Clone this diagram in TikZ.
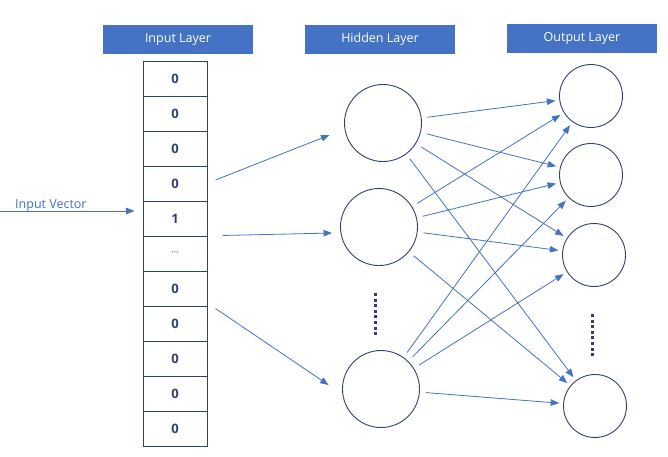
\documentclass[tikz,border=0pt]{standalone}
\usepackage{fontspec}
\setmainfont{Open Sans}
\usepackage{xcolor}
\usepackage{tikz}
\usetikzlibrary{arrows.meta,calc,positioning}
\definecolor{officeblue}{HTML}{4472C4}
\definecolor{navy}{HTML}{2F4170}
\tikzstyle{arrow} = [draw=officeblue, line width=0.8pt, -{Triangle[length=8.5pt,width=6.5pt]}]
\tikzstyle{link} = [arrow, shorten <=6pt, shorten >=4pt]
\tikzstyle{header} = [rectangle, fill=officeblue, text=white, minimum width=150pt,
  minimum height=29pt, inner sep=0pt, font={\fontsize{12.5}{15}\selectfont}]
\tikzstyle{cell} = [rectangle, draw=navy, line width=1pt, minimum width=64pt,
  minimum height=35pt, inner sep=0pt, text=navy, font={\fontsize{13}{15}\selectfont\bfseries}]
\tikzstyle{neuron} = [circle, draw=navy, line width=0.9pt, inner sep=0pt]
\tikzstyle{vdots} = [draw=navy, line width=3pt, dash pattern=on 3pt off 2.6pt]
\begin{document}
\begin{tikzpicture}[x=1pt, y=-1pt,
                    node distance = 35pt]
      \useasboundingbox (0,0) rectangle (668,456);
      \fill [white] (0,0) rectangle (668,456);
      \node [header] at (178,39.5) (inhead) {Input Layer};
      \node [header] at (380,39) (hidhead) {Hidden Layer};
      \node [header] at (582,38) (outhead) {Output Layer};
      % one-hot column
      \node [cell] at (175,78.5) (c1) {0};
      \node [cell, below of=c1] (c2) {0};
      \node [cell, below of=c2] (c3) {0};
      \node [cell, below of=c3] (c4) {0};
      \node [cell, below of=c4] (c5) {1};
      \node [cell, below of=c5, font={\fontsize{9}{10}\selectfont}] (c6) {···};
      \node [cell, below of=c6] (c7) {0};
      \node [cell, below of=c7] (c8) {0};
      \node [cell, below of=c8] (c9) {0};
      \node [cell, below of=c9] (c10) {0};
      \node [cell, below of=c10] (c11) {0};
      \node [anchor=base west, text=officeblue, inner sep=0pt,
        font={\fontsize{12.5}{15}\selectfont}] at (15,208) (ivlabel) {Input Vector};
      \coordinate (ivstart) at (0,211);
      % hidden layer
      \node [neuron, minimum size=77pt] at (383,123) (h1) {};
      \node [neuron, minimum size=77pt] at (379,227) (h2) {};
      \node [neuron, minimum size=77pt] at (381,389) (h3) {};
      \coordinate (hdtop) at (375,293);
      \coordinate (hdbot) at (375,336);
      % output layer
      \node [neuron, minimum size=63pt] at (591,96) (o1) {};
      \node [neuron, minimum size=63pt] at (591,175) (o2) {};
      \node [neuron, minimum size=63pt] at (594,255) (o3) {};
      \node [neuron, minimum size=63pt] at (595,406) (o4) {};
      \coordinate (odtop) at (592,314);
      \coordinate (odbot) at (592,357);
      \path [vdots] (hdtop) -- (hdbot);
      \path [vdots] (odtop) -- (odbot);
      % input to hidden
      \path [arrow] (ivstart) -- ([xshift=-8pt, yshift=7.5pt]c5.west);
      \path [arrow] ([xshift=8pt, yshift=3.5pt]c4.east) -- ([xshift=-14.5pt, yshift=-12pt]h1.west);
      \path [arrow] ([xshift=15pt]c6.north east) -- ([xshift=-8pt, yshift=-6pt]h2.west);
      \path [arrow] ([xshift=8pt, yshift=-2pt]c7.south east) -- ([xshift=-13.5pt, yshift=4pt]h3.west);
      % hidden to output
      \path [link] (h1) -- (o1);
      \path [link] (h1) -- (o2);
      \path [link] (h1) -- (o3);
      \path [link] (h1) -- (o4);
      \path [link] (h2) -- (o1);
      \path [link] (h2) -- (o2);
      \path [link] (h2) -- (o3);
      \path [link] (h2) -- (o4);
      \path [link] (h3) -- (o1);
      \path [link] (h3) -- (o2);
      \path [link] (h3) -- (o3);
      \path [link] (h3) -- (o4);
    \end{tikzpicture}
\end{document}
